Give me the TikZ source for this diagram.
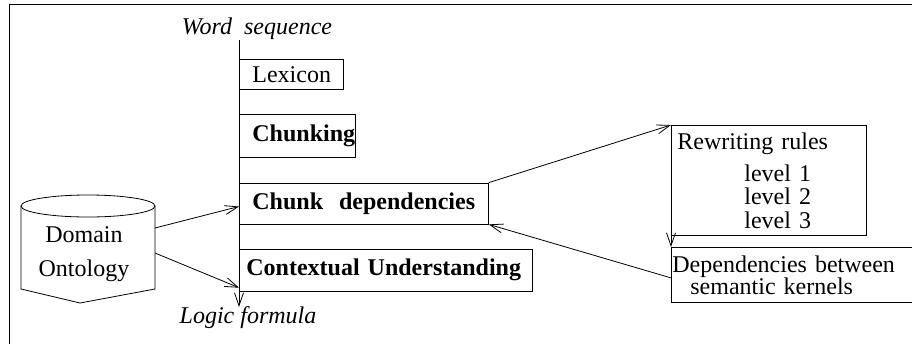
\documentclass[tikz,border=0pt]{standalone}
\usepackage{fontspec}
\setmainfont{Liberation Serif}
\usetikzlibrary{arrows.meta,positioning}

\begin{document}
\begin{tikzpicture}[x=1pt,y=-1pt,>={Straight Barb[length=13pt,width=9pt]},
                    line width=0.8pt,node distance=24.5pt,
                    font=\fontsize{24}{24}\selectfont]
  \tikzstyle{stage}=[draw,anchor=north west,inner sep=0pt,align=left]
  \tikzstyle{io}=[anchor=base,font=\fontsize{24}{24}\selectfont\itshape]

  \useasboundingbox (0,0) rectangle (912,343);
  \draw[line width=1pt] (9,4) rectangle (940,360);

  % pipeline
  \node[io] (word)  at (257,34)  {Word~~sequence};
  \node[io] (logic) at (248,323) {Logic formula};
  \coordinate (in)  at (239,40);
  \coordinate (out) at (239,307);
  \draw[->] (in) -- (out);

  \node[stage,minimum width=104pt,minimum height=30pt,text width=104pt] (lex) at (239,59)
       {\hspace*{13pt}Lexicon};
  \node[stage,minimum width=116pt,minimum height=43pt,text width=116pt,
        below=of lex.south west,anchor=north west] (chunk)
       {\hspace*{13pt}\textbf{Chunking}};
  \node[stage,minimum width=249pt,minimum height=41pt,text width=249pt,
        below=of chunk.south west,anchor=north west] (chunkdep)
       {\hspace*{13pt}\textbf{Chunk~~dependencies}};
  \node[stage,minimum width=293pt,minimum height=42pt,text width=293pt,
        below=of chunkdep.south west,anchor=north west] (ctx)
       {\hspace*{7pt}\textbf{Contextual Understanding}};

  % ontology
  \draw (21,206) -- (21,289) -- (80,303) -- (155,289) -- (155,206);
  \draw (88,206) ellipse (67 and 11);
  \coordinate (onto-a) at (155,228);
  \coordinate (onto-b) at (155,253);
  \node[align=center] (onto) at (84,254) {Domain\\[10pt]Ontology};
  \draw[->] (onto-a) -- ([yshift=-3pt]chunkdep.west);
  \draw[->] (onto-b) -- ([yshift=4pt]ctx.south west);

  % rewriting
  \node[stage,minimum width=195pt,minimum height=110pt,text width=195pt] (rules) at (671,125)
       {\hspace*{6pt}Rewriting rules\\[8pt]
        \hspace*{73pt}level 1\\[-0.5pt]
        \hspace*{73pt}level 2\\[-0.5pt]
        \hspace*{73pt}level 3};
  \node[stage,minimum width=260pt,minimum height=55pt,text width=260pt] (deps) at (671,247)
       {\hspace*{1pt}Dependencies between\\[-2pt]
        \hspace*{19pt}semantic kernels};

  \draw[->] (chunkdep.north east) -- (rules.north west);
  \draw[->] (rules.south west) -- (deps.north west);
  \draw[->] ([yshift=-3pt]deps.west) -- (chunkdep.south east);
\end{tikzpicture}
\end{document}
